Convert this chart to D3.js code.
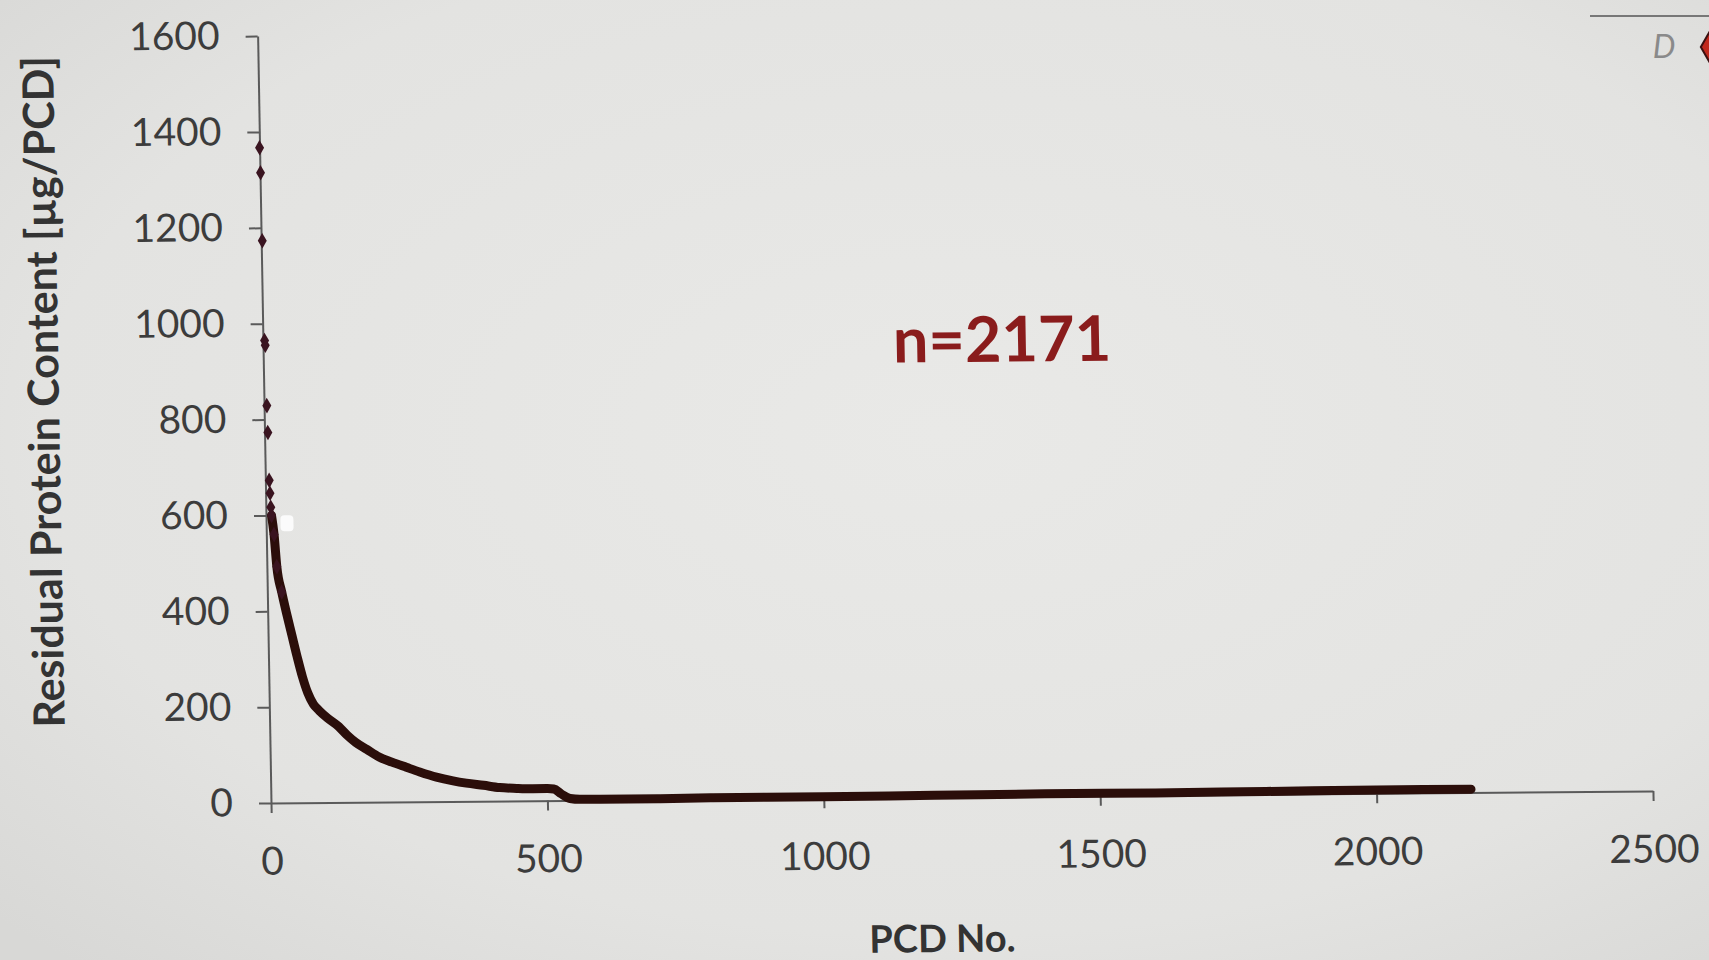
<!DOCTYPE html>
<html>
<head>
<meta charset="utf-8">
<script src="https://cdn.jsdelivr.net/npm/d3@7"></script>
<style>
  html, body { margin: 0; padding: 0; background: #e2e2e0; overflow: hidden; }
  text { font-family: Lato, "Open Sans", sans-serif; }
</style>
</head>
<body>
<div id="vis"></div>
<script>
// values
var pcdNo = [0, 1, 2, 3, 4, 5, 6, 7, 8, 9, 10, 14, 18, 26, 34, 43, 52, 61, 70, 80, 90, 105, 125, 140, 155, 175, 197, 220, 246, 270, 300, 330, 354, 385, 414, 445, 474, 500, 512, 525, 541, 560, 595, 700, 800, 1000, 1200, 1400, 1600, 1800, 2000, 2171];
var protein = [1367, 1315, 1173, 965, 955, 829, 773, 673, 646, 617, 600, 560, 493, 440, 396, 350, 304, 262, 229, 205, 192, 176, 158, 140, 125, 110, 94, 83, 72, 62, 51, 43, 38, 33, 28, 26, 25, 25, 24, 14, 4, 2, 2, 2, 3, 3, 4, 5, 5, 6, 7, 7];
var xTicks = [0, 500, 1000, 1500, 2000, 2500];
var yTicks = [0, 200, 400, 600, 800, 1000, 1200, 1400, 1600];
var nLabel = "n=2171";
var xTitle = "PCD No.";
var yTitle = "Residual Protein Content [µg/PCD]";

var width = 1709;
var height = 960;
var margin = { top: 36, left: 271, bottom: 157, right: 56 };

var svg = d3.select("#vis").append("svg")
    .attr("width", width)
    .attr("height", height);

// soft photo-like background
var defs = svg.append("defs");
var grad = defs.append("radialGradient")
    .attr("id", "bg")
    .attr("cx", "55%").attr("cy", "45%").attr("r", "75%");
grad.append("stop").attr("offset", "0%").attr("stop-color", "#e9e9e7");
grad.append("stop").attr("offset", "70%").attr("stop-color", "#e3e3e1");
grad.append("stop").attr("offset", "100%").attr("stop-color", "#d8d8d6");
svg.append("rect")
    .attr("width", width).attr("height", height)
    .attr("fill", "url(#bg)");

var x = d3.scaleLinear()
    .domain([0, 2500])
    .range([margin.left, width - margin.right]);
var y = d3.scaleLinear()
    .domain([0, 1600])
    .range([height - margin.bottom, margin.top]);

// whole chart is slightly tilted / skewed in the photo
var ox = x(0), oy = y(0);
var g = svg.append("g")
    .attr("transform", "translate(" + ox + "," + oy + ") rotate(-0.5) skewX(0.5) translate(" + (-ox) + "," + (-oy) + ")");

var xAxis = g.append("g")
    .attr("class", "x axis")
    .attr("transform", "translate(0," + y(0) + ")")
    .call(d3.axisBottom(x).tickValues(xTicks).tickFormat(d3.format("d"))
        .tickSize(10).tickSizeOuter(0).tickPadding(34));

var yAxis = g.append("g")
    .attr("class", "y axis")
    .attr("transform", "translate(" + x(0) + ",0)")
    .call(d3.axisLeft(y).tickValues(yTicks).tickFormat(d3.format("d"))
        .tickSize(12).tickSizeOuter(0).tickPadding(26));

g.selectAll(".axis path, .axis line")
    .attr("stroke", "#5a5a5a")
    .attr("stroke-width", 2);
g.selectAll(".axis text")
    .attr("fill", "#3c3c3c")
    .style("font-size", "39px")
    .style("font-family", "Lato, sans-serif");

var data = pcdNo.map(function(d, i) { return { x: d, y: protein[i] }; });

var line = d3.line()
    .x(function(d) { return x(d.x); })
    .y(function(d) { return y(d.y); })
    .curve(d3.curveMonotoneX);

// main curve (from where the points merge into a line)
g.append("path")
    .datum(data.filter(function(d) { return d.x >= 10; }))
    .attr("fill", "none")
    .attr("stroke", "#2b0e0a")
    .attr("stroke-width", 9)
    .attr("stroke-linecap", "round")
    .attr("d", line);

// scattered top values near PCD 0
g.selectAll(".pt")
    .data(data.filter(function(d) { return d.x <= 26; }))
    .enter().append("path")
    .attr("class", "pt")
    .attr("transform", function(d) { return "translate(" + x(d.x) + "," + y(d.y) + ")"; })
    .attr("d", d3.symbol().type(d3.symbolDiamond).size(70))
    .attr("fill", "#3a1420");

// glare spot from the photo
g.append("rect")
    .attr("x", x(26)).attr("y", y(600))
    .attr("width", 13).attr("height", 16).attr("rx", 4)
    .attr("fill", "#ffffff").attr("opacity", 0.85);

g.append("text")
    .attr("x", 1010)
    .attr("y", 368)
    .attr("text-anchor", "middle")
    .attr("fill", "#8a1c1c")
    .style("font-size", "63px")
    .style("font-weight", "bold")
    .text(nLabel);

g.append("text")
    .attr("x", 940)
    .attr("y", 958)
    .attr("text-anchor", "middle")
    .attr("fill", "#333")
    .style("font-size", "38px")
    .style("font-weight", "bold")
    .text(xTitle);

g.append("text")
    .attr("transform", "translate(66," + 390 + ") rotate(-90)")
    .attr("text-anchor", "middle")
    .attr("fill", "#333")
    .style("font-size", "43px")
    .style("font-weight", "bold")
    .text(yTitle);

// corner slide fragment: rule, "D" and a red marker cut by the edge
svg.append("line")
    .attr("x1", 1590).attr("x2", width)
    .attr("y1", 16).attr("y2", 16)
    .attr("stroke", "#777").attr("stroke-width", 2);
svg.append("text")
    .attr("x", 1664).attr("y", 58)
    .attr("text-anchor", "middle")
    .attr("fill", "#8a8a8a")
    .style("font-size", "32px")
    .style("font-style", "italic")
    .text("D");
svg.append("path")
    .attr("transform", "translate(1714,47)")
    .attr("d", d3.symbol().type(d3.symbolDiamond).size(600))
    .attr("fill", "#c0281c")
    .attr("stroke", "#3a1010").attr("stroke-width", 2);
</script>
</body>
</html>
